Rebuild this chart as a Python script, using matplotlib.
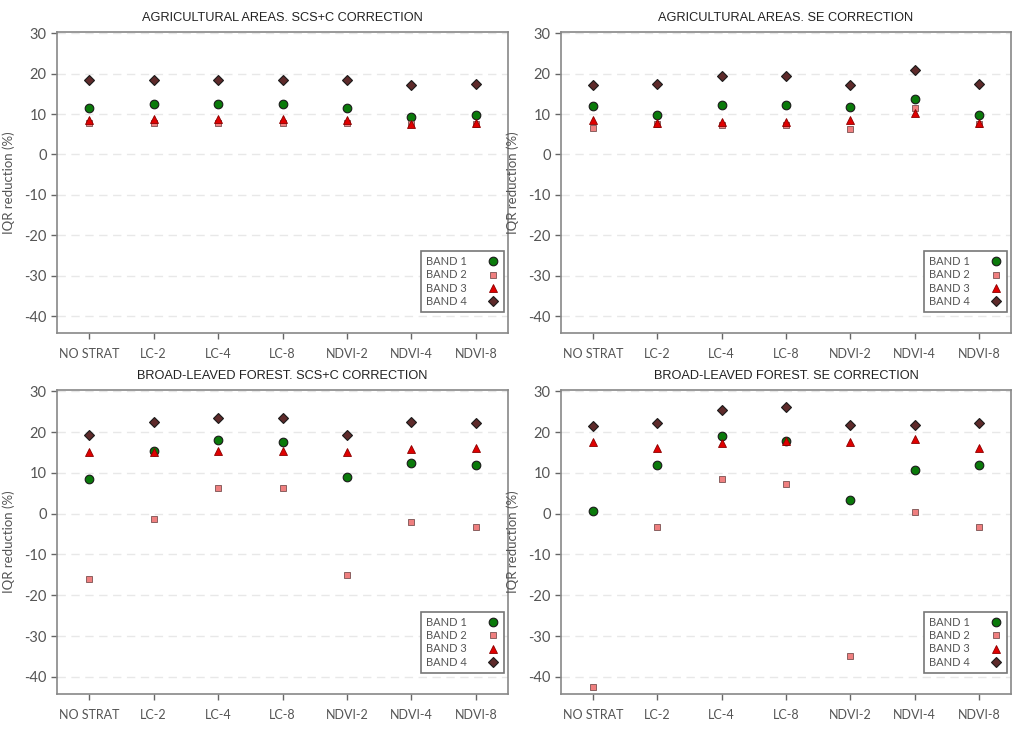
import matplotlib
matplotlib.use("Agg")
import matplotlib.pyplot as plt
import numpy as np

plt.rcParams["axes.unicode_minus"] = False

categories = ["NO STRAT", "LC-2", "LC-4", "LC-8", "NDVI-2", "NDVI-4", "NDVI-8"]
titles = ["AGRICULTURAL AREAS. SCS+C CORRECTION", "AGRICULTURAL AREAS. SE CORRECTION",
          "BROAD-LEAVED FOREST. SCS+C CORRECTION", "BROAD-LEAVED FOREST. SE CORRECTION"]
band_names = ["BAND 1", "BAND 2", "BAND 3", "BAND 4"]

# Agricultural, SCS+C
agr_scsc_b1 = [11.5, 12.5, 12.5, 12.5, 11.6, 9.3, 9.8]
agr_scsc_b2 = [7.8, 7.7, 7.8, 7.8, 7.8, 7.5, 7.6]
agr_scsc_b3 = [8.6, 8.7, 8.7, 8.7, 8.6, 7.6, 7.9]
agr_scsc_b4 = [18.5, 18.4, 18.5, 18.5, 18.5, 17.2, 17.5]
# Agricultural, SE
agr_se_b1 = [12.0, 9.8, 12.2, 12.2, 11.8, 13.6, 9.8]
agr_se_b2 = [6.5, 7.5, 7.3, 7.3, 6.2, 11.6, 7.5]
agr_se_b3 = [8.4, 7.9, 8.1, 8.1, 8.4, 10.3, 7.9]
agr_se_b4 = [17.3, 17.5, 19.3, 19.3, 17.1, 20.8, 17.5]
# Broad-leaved, SCS+C
bl_scsc_b1 = [8.4, 15.4, 18.0, 17.5, 8.9, 12.3, 11.9]
bl_scsc_b2 = [-15.9, -1.2, 6.3, 6.2, -15.1, -2.0, -3.2]
bl_scsc_b3 = [15.0, 15.1, 15.3, 15.3, 15.0, 15.8, 16.1]
bl_scsc_b4 = [19.2, 22.5, 23.5, 23.5, 19.3, 22.5, 22.3]
# Broad-leaved, SE
bl_se_b1 = [0.6, 11.9, 19.0, 17.9, 3.4, 10.7, 11.9]
bl_se_b2 = [-42.4, -3.3, 8.4, 7.2, -34.9, 0.3, -3.3]
bl_se_b3 = [17.6, 16.1, 17.3, 17.8, 17.6, 18.4, 16.1]
bl_se_b4 = [21.6, 22.3, 25.4, 26.1, 21.8, 21.8, 22.3]

panels = [
    [agr_scsc_b1, agr_scsc_b2, agr_scsc_b3, agr_scsc_b4],
    [agr_se_b1, agr_se_b2, agr_se_b3, agr_se_b4],
    [bl_scsc_b1, bl_scsc_b2, bl_scsc_b3, bl_scsc_b4],
    [bl_se_b1, bl_se_b2, bl_se_b3, bl_se_b4],
]

styles = [
    dict(marker="o", ms=6.2, mfc="#0a7a0a", mec="#1a1a1a", mew=0.8),
    dict(marker="s", ms=4.8, mfc="#ef7f7f", mec="#8a6060", mew=0.7),
    dict(marker="^", ms=5.8, mfc="#e00000", mec="#8a0000", mew=0.6),
    dict(marker="D", ms=4.6, mfc="#5e2a2a", mec="#1a1a1a", mew=0.8),
]

fig = plt.figure(figsize=(10.24, 7.3), dpi=100)
fig.patch.set_facecolor("white")

W, H = 1024, 730
boxes = [
    (57, 32, 508, 333),
    (561, 32, 1011, 333),
    (57, 390, 508, 694),
    (561, 390, 1011, 694),
]

tick_font = "Lato"
gray = "#555555"

for i, (l, t, r, b) in enumerate(boxes):
    ax = fig.add_axes([l / W, 1 - b / H, (r - l) / W, (b - t) / H])
    x = np.arange(len(categories))
    for s, vals in enumerate(panels[i]):
        ax.plot(x, vals, linestyle="none", label=band_names[s], **styles[s], zorder=3)
    ax.set_xlim(-0.5, 6.5)
    ax.set_ylim(-44.2, 30.3)
    ax.set_yticks(range(-40, 31, 10))
    ax.set_xticks(x)
    ax.set_xticklabels(categories, family=tick_font, fontsize=9, color=gray)
    for lab in ax.get_yticklabels():
        lab.set_family(tick_font)
        lab.set_fontsize(10.5)
        lab.set_color(gray)
    ax.tick_params(axis="both", direction="out", length=4, width=1, color="#666666")
    ax.tick_params(axis="x", pad=7)
    ax.grid(axis="y", linestyle=(0, (6, 4)), color="#e8e8e8", linewidth=1, zorder=0)
    for sp in ax.spines.values():
        sp.set_color("#888888")
        sp.set_linewidth(1.2)
    ax.set_title(titles[i], family="Liberation Sans", fontsize=9.2, color="#222222", pad=8)
    ax.set_ylabel("IQR reduction (%)", family=tick_font, fontsize=9.5, color=gray)
    ax.yaxis.set_label_coords(-0.093, 0.5)
    leg = ax.legend(loc="lower right", bbox_to_anchor=(0.991, 0.07), markerfirst=False,
                    fancybox=False, framealpha=1, edgecolor="#777777",
                    prop={"family": tick_font, "size": 8}, labelcolor=gray,
                    handlelength=1.0, handletextpad=1.9, labelspacing=0.2,
                    borderpad=0.45, borderaxespad=0.0)
    leg.get_frame().set_linewidth(1.2)

fig.savefig("out.png", dpi=100, facecolor="white")
